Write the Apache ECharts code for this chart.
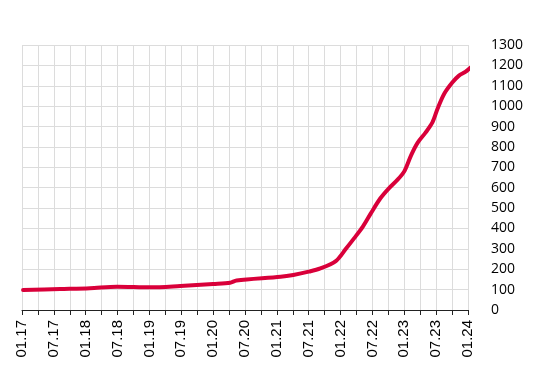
<!DOCTYPE html>
<html>
<head>
<meta charset="utf-8">
<script src="https://cdn.jsdelivr.net/npm/echarts@6/dist/echarts.min.js"></script>
<style>html,body{margin:0;padding:0;background:#fff}#c{width:558px;height:380px}</style>
</head>
<body>
<div id="c"></div>
<script>
var dates = [
  '2017-01-07','2017-08-07','2018-01-25','2018-06-28','2019-01-07','2019-06-25',
  '2020-01-01','2020-04-07','2020-05-13','2021-01-22','2021-04-04','2021-07-01',
  '2021-09-07','2021-12-04','2022-02-01','2022-03-16','2022-05-07','2022-06-22',
  '2022-08-16','2022-10-04','2022-11-22','2023-01-01','2023-02-10','2023-03-16',
  '2023-05-01','2023-06-10','2023-07-10','2023-08-16','2023-10-01','2023-11-10',
  '2023-12-16','2024-01-19'
];
var values = [
  98, 103, 107, 114, 111, 118,
  128, 134, 145, 163, 172, 188,
  204, 240, 300, 350, 409, 474,
  548, 597, 638, 680, 760, 820,
  870, 920, 990, 1060, 1115, 1150,
  1168, 1192
];
var startYear = 2017;
var yTicks = {min: 0, max: 1300, step: 100};

function monthIndex(s) {
  var p = s.split('-').map(Number);
  return (p[0] - startYear) * 12 + (p[1] - 1) + (p[2] - 1) / 30;
}
var seriesData = dates.map(function (d, i) { return [monthIndex(d), values[i]]; });

var chart = echarts.init(document.getElementById('c'));
chart.setOption({
  animation: false,
  grid: {left: 22, right: 90, top: 45, bottom: 70, containLabel: false},
  xAxis: {
    type: 'value', min: 0, max: 84, interval: 3,
    axisLine: {show: true, lineStyle: {color: '#222', width: 1}},
    axisTick: {show: true, length: 5, lineStyle: {color: '#222'}},
    splitLine: {show: true, lineStyle: {color: '#dcdcdc', width: 1}},
    axisLabel: {
      rotate: 90, margin: 10, fontSize: 15, padding: [11, 0, 0, 0],
      fontFamily: '"Liberation Sans Narrow", "Liberation Sans", sans-serif', color: '#000',
      formatter: function (v) {
        if (v % 6 !== 0) return '';
        var m = v % 12 === 0 ? '01' : '07';
        var y = startYear - 2000 + Math.floor(v / 12);
        return m + '.' + y;
      }
    }
  },
  yAxis: {
    type: 'value', position: 'right', min: yTicks.min, max: yTicks.max, interval: yTicks.step,
    axisLine: {show: false}, axisTick: {show: false},
    splitLine: {show: true, lineStyle: {color: '#dcdcdc', width: 1}},
    axisLabel: {margin: 23, fontSize: 14, fontFamily: '"Open Sans", sans-serif', color: '#000',
      formatter: function (v) { return String(v); }}
  },
  series: [{
    type: 'line', data: seriesData, smooth: 0.3, showSymbol: false, clip: false,
    lineStyle: {color: '#d9003a', width: 4, cap: 'round', join: 'round'}
  }]
});
</script>
</body>
</html>
